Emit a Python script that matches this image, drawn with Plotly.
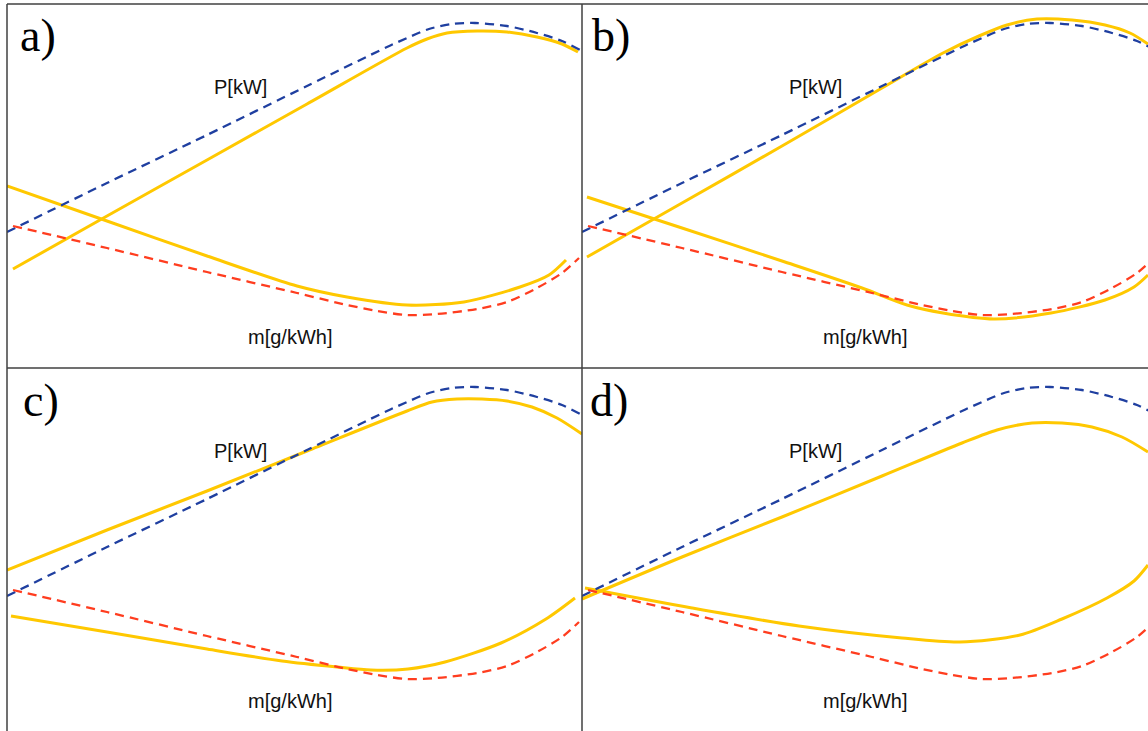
import plotly.graph_objects as go

# ---- reference curves (same in every panel); x: speed axis (px units), y: value (px units, up) ----
ref_P_x = [0, 100, 200, 300, 380, 400, 422, 445, 468, 500, 530, 555, 573]
ref_P_y = [136, 185, 233, 282, 321, 330, 339, 344, 345, 342, 335, 327, 318]
ref_m_x = [6, 100, 200, 290, 340, 370, 400, 430, 470, 500, 530, 555, 572]
ref_m_y = [142, 120, 96, 75, 63, 57, 53, 54, 59, 66, 80, 95, 110]

# ---- measured (yellow) curves per panel ----
a_P_x = [6, 100, 200, 300, 400, 420, 440, 470, 500, 530, 555, 571]
a_P_y = [99, 152, 208, 264, 320, 329, 335, 337, 336, 331, 324, 316]
a_m_x = [0, 100, 200, 290, 340, 400, 457, 513, 542, 559]
a_m_y = [182, 147, 112, 82, 71, 63, 66, 81, 93, 108]

b_P_x = [5, 100, 200, 300, 361, 397, 425, 455, 490, 523, 548, 566]
b_P_y = [111, 165, 222, 280, 315, 332, 343, 349, 348, 343, 335, 324]
b_m_x = [5, 100, 200, 280, 325, 361, 412, 469, 523, 552, 566]
b_m_y = [171, 140, 107, 80, 63, 55, 49, 55, 68, 81, 93]

c_P_x = [0, 100, 200, 300, 400, 425, 450, 475, 500, 525, 550, 575]
c_P_y = [162, 202, 241, 281, 321, 330, 333, 333, 331, 325, 314, 298]
c_m_x = [4, 100, 200, 275, 330, 364, 401, 438, 494, 539, 568]
c_m_y = [116, 100, 83, 71, 65, 62, 63, 70, 89, 113, 134]

d_P_x = [0, 100, 200, 300, 380, 415, 450, 480, 510, 540, 566]
d_P_y = [133, 175, 215, 256, 289, 302, 309, 309, 305, 295, 280]
d_m_x = [3, 110, 217, 320, 378, 438, 480, 525, 552, 566]
d_m_y = [144, 124, 106, 94, 90, 97, 113, 134, 151, 167]

panel_letters = ["a)", "b)", "c)", "d)"]
label_P = "P[kW]"
label_m = "m[g/kWh]"

YELLOW = "#FFC800"
BLUE = "#1F3FA0"
RED = "#FF3D1F"
BORDER = "#404040"

W, H = 1148, 731
def px(x):
    return x / W
def py(y):
    return 1 - y / H

# panel geometry in pixels: (left, right, top, bottom)
panels = [
    (7, 582, 4, 368),
    (582, 1148, 4, 368),
    (7, 582, 368, 731),
    (582, 1148, 368, 731),
]
yellow_sets = [(a_P_x, a_P_y, a_m_x, a_m_y), (b_P_x, b_P_y, b_m_x, b_m_y),
               (c_P_x, c_P_y, c_m_x, c_m_y), (d_P_x, d_P_y, d_m_x, d_m_y)]
letter_dx = [11, 8, 14, 6]

fig = go.Figure()
annotations = []
for i, ((l, r, t, b), (Px, Py, mx, my)) in enumerate(zip(panels, yellow_sets)):
    n = "" if i == 0 else str(i + 1)
    xa, ya = "x" + n, "y" + n
    line_kw = dict(shape="spline", smoothing=0.8)
    fig.add_trace(go.Scatter(x=Px, y=Py, mode="lines", xaxis=xa, yaxis=ya,
                             line=dict(color=YELLOW, width=3, **line_kw), showlegend=False))
    fig.add_trace(go.Scatter(x=mx, y=my, mode="lines", xaxis=xa, yaxis=ya,
                             line=dict(color=YELLOW, width=3, **line_kw), showlegend=False))
    fig.add_trace(go.Scatter(x=ref_P_x, y=ref_P_y, mode="lines", xaxis=xa, yaxis=ya,
                             line=dict(color=BLUE, width=2.3, dash="9px,6px", **line_kw), showlegend=False))
    fig.add_trace(go.Scatter(x=ref_m_x, y=ref_m_y, mode="lines", xaxis=xa, yaxis=ya,
                             line=dict(color=RED, width=2.3, dash="9px,6px", **line_kw), showlegend=False))
    h = b - t
    fig.layout["xaxis" + n] = dict(domain=[px(l), px(r)], range=[0, r - l], visible=False,
                                   anchor=ya, fixedrange=True)
    fig.layout["yaxis" + n] = dict(domain=[py(b), py(t)], range=[364 - h, 364], visible=False,
                                   anchor=xa, fixedrange=True)
    annotations.append(dict(xref=xa, yref=ya, x=233, y=281, text=label_P, showarrow=False,
                            font=dict(family="Liberation Sans, Arial", size=20, color="#111111")))
    annotations.append(dict(xref=xa, yref=ya, x=283, y=31, text=label_m, showarrow=False,
                            font=dict(family="Liberation Sans, Arial", size=20, color="#111111")))
    annotations.append(dict(xref=xa, yref=ya, x=letter_dx[i], y=364 - 32, text=panel_letters[i],
                            showarrow=False, xanchor="left", yanchor="middle",
                            font=dict(family="Liberation Serif, Times New Roman", size=46, color="#000000")))

border = dict(color=BORDER, width=1.5)
shapes = [
    dict(type="line", xref="paper", yref="paper", x0=px(7), x1=1, y0=py(4), y1=py(4), line=border),
    dict(type="line", xref="paper", yref="paper", x0=px(7), x1=px(7), y0=py(4), y1=0, line=border),
    dict(type="line", xref="paper", yref="paper", x0=px(582), x1=px(582), y0=py(4), y1=0, line=border),
    dict(type="line", xref="paper", yref="paper", x0=px(7), x1=1, y0=py(368), y1=py(368), line=border),
]

fig.update_layout(width=W, height=H, margin=dict(l=0, r=0, t=0, b=0),
                  paper_bgcolor="white", plot_bgcolor="white",
                  annotations=annotations, shapes=shapes)
fig.write_html("out.html", config={"displayModeBar": False},
               post_script="document.body.style.margin='0';document.body.style.overflow='hidden';")
